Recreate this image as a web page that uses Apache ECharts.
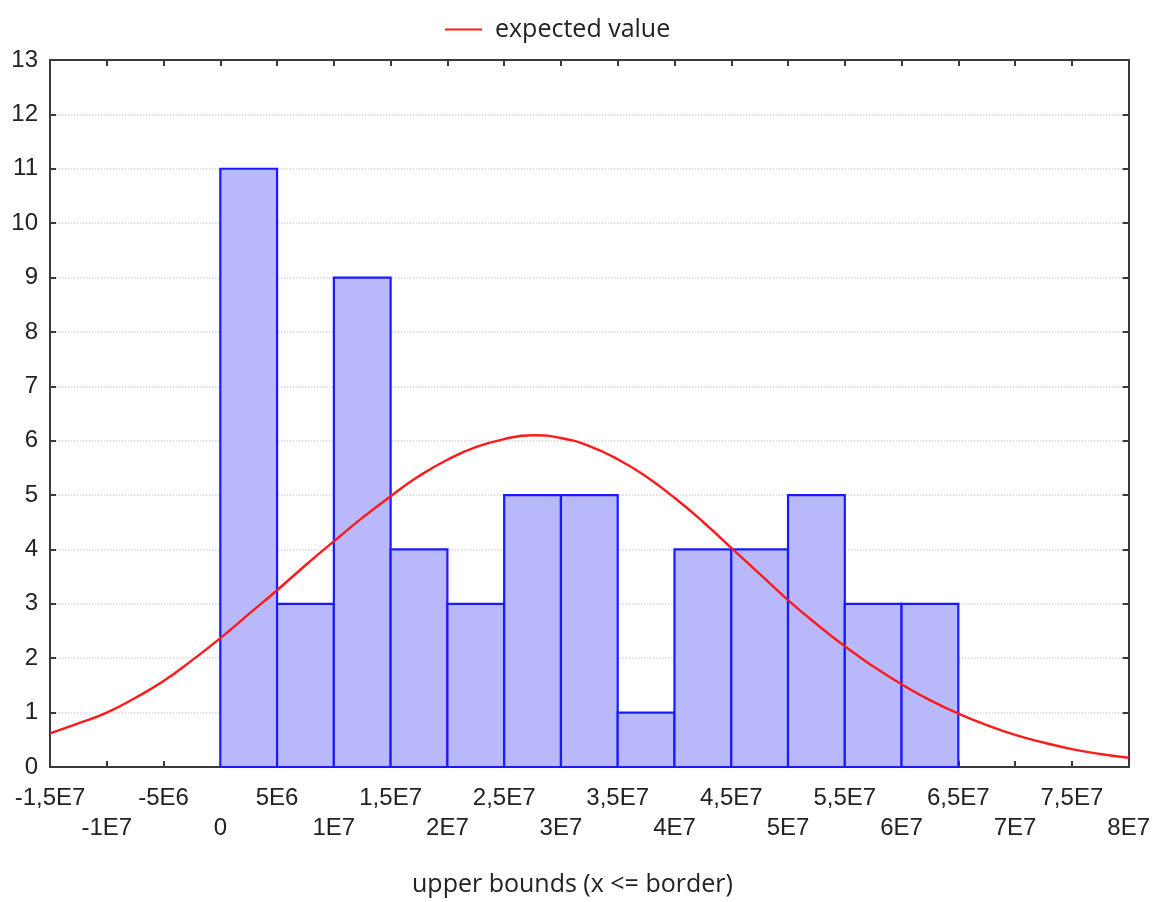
<!DOCTYPE html>
<html>
<head>
<meta charset="utf-8">
<script src="https://cdn.jsdelivr.net/npm/echarts@6/dist/echarts.min.js"></script>
<style>
  html, body { margin: 0; padding: 0; background: #fff; }
  #chart { width: 1153px; height: 902px; }
</style>
</head>
<body>
<div id="chart"></div>
<script>
// histogram bins (upper bounds x <= border)
const binLower = [0, 5e6, 1e7, 1.5e7, 2e7, 2.5e7, 3e7, 3.5e7, 4e7, 4.5e7, 5e7, 5.5e7, 6e7]
const binUpper = [5e6, 1e7, 1.5e7, 2e7, 2.5e7, 3e7, 3.5e7, 4e7, 4.5e7, 5e7, 5.5e7, 6e7, 6.5e7]
const counts = [11, 3, 9, 4, 3, 5, 5, 1, 4, 4, 5, 3, 3]

// expected value curve
const curveX = [-1.5e7, -1.25e7, -1e7, -7.5e6, -5e6, -2.5e6, 0, 2.5e6, 5e6, 7.5e6, 1e7, 1.25e7, 1.5e7, 1.75e7,
  2e7, 2.25e7, 2.5e7, 2.75e7, 3e7, 3.25e7, 3.5e7, 3.75e7, 4e7, 4.25e7, 4.5e7, 4.75e7, 5e7, 5.25e7, 5.5e7,
  5.75e7, 6e7, 6.25e7, 6.5e7, 6.75e7, 7e7, 7.25e7, 7.5e7, 7.75e7, 8e7]
const curveY = [0.62, 0.80, 1.0, 1.27, 1.58, 1.96, 2.37, 2.81, 3.25, 3.71, 4.15, 4.58, 4.98, 5.35,
  5.65, 5.88, 6.03, 6.1, 6.05, 5.9, 5.66, 5.34, 4.95, 4.51, 4.03, 3.55, 3.07, 2.63, 2.22,
  1.85, 1.52, 1.23, 0.98, 0.77, 0.59, 0.45, 0.33, 0.24, 0.17]

// format like 1,5E7
function fmt(v) {
  if (v === 0) return '0'
  const e = Math.floor(Math.log10(Math.abs(v)) + 1e-9)
  let m = Math.round(v / Math.pow(10, e) * 10) / 10
  return String(m).replace('.', ',') + 'E' + e
}
const isOdd = v => Math.abs(Math.round(v / 5e6)) % 2 === 1

const chart = echarts.init(document.getElementById('chart'))
const axisColor = '#3a3a3a'
const labelFont = { fontFamily: 'Liberation Sans', fontSize: 24, color: '#222' }

const xBase = {
  type: 'value',
  min: -1.5e7,
  max: 8e7,
  interval: 5e6,
  splitLine: { show: false }
}

const option = {
  animation: false,
  backgroundColor: '#fff',
  grid: { left: 50, right: 24, top: 60, bottom: 135, containLabel: false },
  legend: {
    data: ['expected value'],
    left: 440,
    top: 12,
    itemWidth: 37,
    itemHeight: 2,
    itemGap: 10,
    textStyle: { fontFamily: 'Open Sans', fontSize: 25, color: '#222', padding: [0, 0, 0, 8] },
    icon: 'rect'
  },
  xAxis: [
    {
      ...xBase,
      position: 'bottom',
      axisLine: { show: true, onZero: false, lineStyle: { color: axisColor, width: 2 } },
      axisTick: { show: true, inside: true, length: 6, lineStyle: { color: axisColor, width: 2 } },
      axisLabel: {
        ...labelFont,
        margin: 19,
        showMinLabel: true,
        showMaxLabel: true,
        hideOverlap: false,
        formatter: v => (isOdd(v) ? fmt(v) : '')
      }
    },
    {
      ...xBase,
      position: 'top',
      axisLine: { show: true, onZero: false, lineStyle: { color: axisColor, width: 2 } },
      axisTick: { show: true, inside: true, length: 6, lineStyle: { color: axisColor, width: 2 } },
      axisLabel: { show: false }
    },
    {
      // second row of labels under the axis
      ...xBase,
      position: 'bottom',
      axisLine: { show: false, onZero: false },
      axisTick: { show: false },
      axisLabel: {
        ...labelFont,
        margin: 49,
        showMinLabel: true,
        showMaxLabel: true,
        hideOverlap: false,
        formatter: v => (isOdd(v) ? '' : fmt(v))
      }
    }
  ],
  yAxis: [
    {
      type: 'value',
      min: 0,
      max: 13,
      interval: 1,
      axisLine: { show: true, onZero: false, lineStyle: { color: axisColor, width: 2 } },
      axisTick: { show: true, inside: true, length: 6, lineStyle: { color: axisColor, width: 2 } },
      splitLine: { show: true, lineStyle: { color: '#d8d8d8', type: 'dotted', width: 1.5 } },
      axisLabel: { ...labelFont, margin: 12 }
    },
    {
      type: 'value',
      min: 0,
      max: 13,
      interval: 1,
      position: 'right',
      axisLine: { show: true, onZero: false, lineStyle: { color: axisColor, width: 2 } },
      axisTick: { show: true, inside: true, length: 6, lineStyle: { color: axisColor, width: 2 } },
      axisLabel: { show: false },
      splitLine: { show: false }
    }
  ],
  graphic: [
    {
      type: 'text',
      left: 412,
      top: 872,
      style: { text: 'upper bounds (x <= border)', font: '25px "Open Sans"', fill: '#222' }
    }
  ],
  series: [
    {
      name: 'histogram',
      type: 'custom',
      xAxisIndex: 0,
      yAxisIndex: 0,
      data: counts.map((c, i) => [binLower[i], binUpper[i], c]),
      renderItem: (params, api) => {
        const p0 = api.coord([api.value(0), api.value(2)])
        const p1 = api.coord([api.value(1), 0])
        return {
          type: 'rect',
          shape: { x: p0[0], y: p0[1], width: p1[0] - p0[0], height: p1[1] - p0[1] },
          style: { fill: '#b8b8fa', stroke: '#1a1aff', lineWidth: 2.2 }
        }
      },
      z: 2
    },
    {
      name: 'expected value',
      type: 'line',
      xAxisIndex: 0,
      yAxisIndex: 0,
      data: curveX.map((x, i) => [x, curveY[i]]),
      smooth: 0.5,
      showSymbol: false,
      lineStyle: { color: '#ff1a1a', width: 2.4 },
      itemStyle: { color: '#ff1a1a' },
      z: 3
    }
  ]
}

chart.setOption(option)
</script>
</body>
</html>
